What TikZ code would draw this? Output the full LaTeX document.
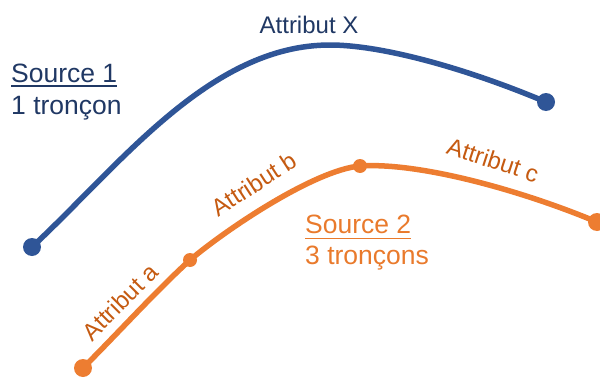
\documentclass[tikz,border=0pt]{standalone}
\usepackage{fontspec}
\setmainfont{Liberation Sans}
\definecolor{blueline}{HTML}{2F5597}
\definecolor{bluetext}{HTML}{203864}
\definecolor{orangeline}{HTML}{ED7D31}
\definecolor{orangetext}{HTML}{C55A11}
\definecolor{orangesrc}{HTML}{E97A2C}
\begin{document}
\begin{tikzpicture}[x=1pt,y=-1pt,
  bluecurve/.style={draw=blueline,line width=5.5pt},
  orangecurve/.style={draw=orangeline,line width=5.5pt},
  enddot/.style={circle,fill=#1,inner sep=0pt,minimum size=18pt},
  middot/.style={circle,fill=orangeline,inner sep=0pt,minimum size=14pt},
  srclabel/.style={anchor=base west,inner sep=0pt,font=\fontsize{26.5}{30}\selectfont},
  attrlabel/.style={inner sep=0pt,font=\fontsize{24}{28}\selectfont},
  underl/.style={line width=1.8pt}
]
\useasboundingbox (0,0) rectangle (600,380);
% blue source
\coordinate (b1) at (32,247);
\coordinate (bpeak) at (330,45);
\coordinate (b2) at (546,102);
\draw[bluecurve] (b1) .. controls (120,165) and (210,45) .. (bpeak)
  .. controls (380,45) and (463,67) .. (b2);
\node[enddot=blueline] (db1) at (b1) {};
\node[enddot=blueline] (db2) at (b2) {};
% orange source
\coordinate (o1) at (83,368);
\coordinate (o2) at (190,260);
\coordinate (o3) at (360,166);
\coordinate (o4) at (597,222);
\draw[orangecurve] (o1) .. controls (119,332) and (155,292) .. (o2);
\draw[orangecurve] (o2) .. controls (228,228) and (315,170) .. (o3);
\draw[orangecurve] (o3) .. controls (420,162) and (523,191) .. (o4);
\node[enddot=orangeline] (do1) at (o1) {};
\node[middot] (do2) at (o2) {};
\node[middot] (do3) at (o3) {};
\node[enddot=orangeline] (do4) at (o4) {};
% labels
\node[attrlabel,text=bluetext,anchor=base] (ax) at (309,33) {Attribut X};
\node[srclabel,text=bluetext] (s1) at (11,82) {Source 1};
\draw[underl,bluetext] ([yshift=-3.8pt]s1.base west) -- ([yshift=-3.8pt]s1.base east);
\node[srclabel,text=bluetext] (t1) at (11,114) {1 tronçon};
\node[srclabel,text=orangesrc] (s2) at (305,233) {Source 2};
\draw[underl,orangesrc] ([yshift=-5.5pt]s2.base west) -- ([yshift=-5.5pt]s2.base east);
\node[srclabel,text=orangesrc] (t2) at (305,264) {3 tronçons};
\node[attrlabel,text=orangetext,rotate=45] (aa) at (120,302) {Attribut a};
\node[attrlabel,text=orangetext,rotate=33] (ab) at (254,184) {Attribut b};
\node[attrlabel,text=orangetext,rotate=-18] (ac) at (493,160) {Attribut c};
\end{tikzpicture}
\end{document}
